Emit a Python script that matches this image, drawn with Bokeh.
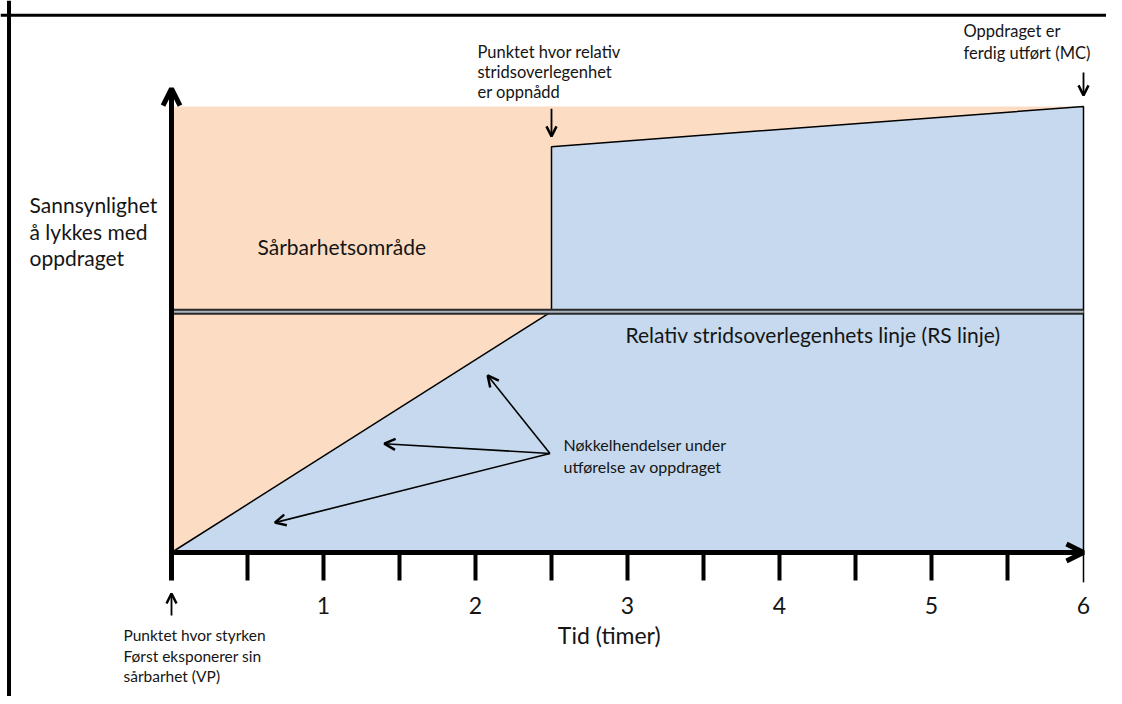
from bokeh.plotting import figure
from bokeh.models import (Range1d, LinearAxis, FixedTicker, Arrow, OpenHead,
                          Label, Span, ColumnDataSource)
from bokeh.embed import file_html
from bokeh.resources import INLINE

# ---------------- data ----------------
major_hours = [1, 2, 3, 4, 5, 6]
minor_hours = [0.5, 1, 1.5, 2, 2.5, 3, 3.5, 4, 4.5, 5, 5.5]
hour_labels = ["1", "2", "3", "4", "5", "6"]
x_title = "Tid (timer)"

vp_time = 0.0      # VP: styrken eksponerer sin sårbarhet
rs_time = 2.5      # relativ stridsoverlegenhet oppnådd
mc_time = 6.0      # oppdraget ferdig utført (MC)

rs_level = 54          # RS linje
rs_jump_level = 91     # sannsynlighet rett etter RS oppnådd
mc_level = 100         # sannsynlighet ved MC
area_top = 100         # toppen av sårbarhetsområdet
axis_top = 104

success_x = [vp_time, rs_time, rs_time, mc_time, mc_time]
success_y = [0, rs_level, rs_jump_level, mc_level, 0]

event_from_x = 2.49
event_from_y = 22.2
event_x = [2.08, 1.40, 0.68]
event_y = [39.7, 24.4, 6.7]

PEACH = "#FCDDC4"
BLUE = "#C6D9EE"
FONT = "Lato"
TXT = "#151515"

# ---------------- figure ----------------
W, H = 1106, 696
x0_px, px_per_h = 171, 152.0
y0_px, px_per_u = 552, 4.46

p = figure(width=W, height=H, output_backend="svg", toolbar_location=None,
           x_range=Range1d(-x0_px / px_per_h, (W - x0_px) / px_per_h),
           y_range=Range1d(-(H - y0_px) / px_per_u, y0_px / px_per_u),
           x_axis_location=None, y_axis_location=None,
           min_border=0, min_border_left=0, min_border_right=0,
           min_border_top=0, min_border_bottom=0)
p.outline_line_color = None
p.xgrid.visible = False
p.ygrid.visible = False
p.background_fill_color = "white"
p.border_fill_color = "white"

# frame border (left and top)
p.add_layout(Span(location=-1.069, dimension="height", line_color="black", line_width=4))
p.add_layout(Span(location=120.45, dimension="width", line_color="black", line_width=3))

# vulnerability area
p.quad(left=[vp_time], right=[mc_time], bottom=[0], top=[area_top],
       fill_color=PEACH, line_color=None)

# success area
p.patch(success_x, success_y, fill_color=BLUE, line_color="black", line_width=1.5)
p.line([mc_time, mc_time], [0, -6.7], line_color="black", line_width=1.5)

# RS line (double line)
p.line([vp_time, mc_time], [rs_level, rs_level], line_color="#2a2a2a", line_width=6)
p.line([vp_time, mc_time], [rs_level, rs_level], line_color="#A9B4BF", line_width=2)

# key events arrows
ev_src = ColumnDataSource(dict(ex=event_x, ey=event_y))
p.add_layout(Arrow(x_start=event_from_x, y_start=event_from_y, x_end="ex", y_end="ey",
                   source=ev_src, line_color="black", line_width=1.6,
                   end=OpenHead(size=11, line_width=2.5, line_color="black")))

# ---------------- axes ----------------
xaxis = LinearAxis(fixed_location=0, bounds=(0, mc_time),
                   ticker=FixedTicker(ticks=major_hours, minor_ticks=minor_hours))
xaxis.major_label_overrides = {h: lab for h, lab in zip(major_hours, hour_labels)}
xaxis.axis_line_color = "black"
xaxis.axis_line_width = 5
xaxis.major_tick_line_color = None
xaxis.major_tick_out = 0
xaxis.major_tick_in = 0
xaxis.minor_tick_line_color = "black"
xaxis.minor_tick_line_width = 4
xaxis.minor_tick_out = 28
xaxis.minor_tick_in = 0
xaxis.major_label_standoff = 16
xaxis.major_label_text_font = FONT
xaxis.major_label_text_font_size = "23px"
xaxis.major_label_text_color = TXT
p.add_layout(xaxis, "below")

yaxis = LinearAxis(fixed_location=0, bounds=(-6.3, axis_top),
                   ticker=FixedTicker(ticks=[]))
yaxis.axis_line_color = "black"
yaxis.axis_line_width = 5
yaxis.major_tick_line_color = None
yaxis.minor_tick_line_color = None
yaxis.major_label_text_font_size = "0px"
p.add_layout(yaxis, "left")

# axis arrow heads
p.add_layout(Arrow(x_start=mc_time - 0.3, y_start=0, x_end=mc_time, y_end=0,
                   line_color="black", line_width=5,
                   end=OpenHead(size=17, line_width=5, line_color="black")))
p.add_layout(Arrow(x_start=0, y_start=axis_top - 6, x_end=0, y_end=axis_top,
                   line_color="black", line_width=5,
                   end=OpenHead(size=17, line_width=5, line_color="black")))

# pointer arrows
def pointer(x, y0, y1):
    p.add_layout(Arrow(x_start=x, y_start=y0, x_end=x, y_end=y1,
                       line_color="black", line_width=1.8,
                       end=OpenHead(size=10, line_width=2.5, line_color="black")))

pointer(rs_time, 99.5, 93.3)
pointer(mc_time, 107.6, 102.5)
pointer(vp_time, -14.1, -9.2)

# ---------------- texts ----------------
def text(x, y, s, size, align="left"):
    p.add_layout(Label(x=x, y=y, text=s, text_font=FONT, text_font_size=f"{size}px",
                       text_color=TXT, text_baseline="alphabetic", text_align=align))

# x axis title
text(2.88, -18.6, x_title, 23, align="center")

for s, y in zip(["Sannsynlighet", "å lykkes med", "oppdraget"], [78.1, 72.0, 66.2]):
    text(-0.934, y, s, 21)

text(0.566, 68.7, "Sårbarhetsområde", 21)
text(2.987, 48.9, "Relativ stridsoverlegenhets linje (RS linje)", 21)

for s, y in zip(["Punktet hvor relativ", "stridsoverlegenhet", "er oppnådd"], [112.2, 107.7, 103.2]):
    text(2.013, y, s, 16.5)

for s, y in zip(["Oppdraget er", "ferdig utført (MC)"], [116.9, 111.9]):
    text(5.211, y, s, 16.5)

for s, y in zip(["Nøkkelhendelser under", "utførelse av oppdraget"], [24.3, 19.3]):
    text(2.579, y, s, 16)

for s, y in zip(["Punktet hvor styrken", "Først eksponerer sin", "sårbarhet (VP)"], [-18.4, -23.1, -27.8]):
    text(-0.316, y, s, 15.5)

open("out.html", "w").write(file_html(p, INLINE))
